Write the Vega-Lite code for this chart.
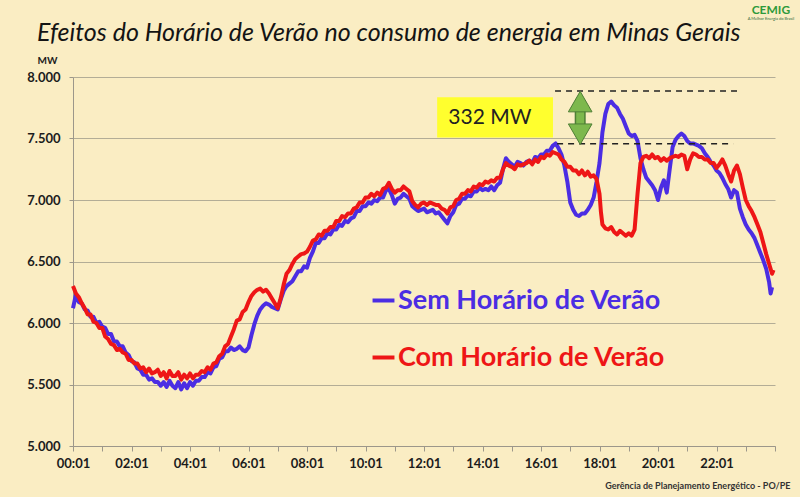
{
  "$schema": "https://vega.github.io/schema/vega-lite/v6.json",
  "width": 702,
  "height": 369,
  "autosize": {"type": "none"},
  "padding": {"left": 73, "top": 77, "right": 25, "bottom": 51},
  "background": "#FAEDC3",
  "config": {"view": {"stroke": null}, "font": "Lato"},
  "datasets": {
    "sem": [
      {"h":0.0,"v":6120},{"h":0.1,"v":6230},{"h":0.2,"v":6170},{"h":0.3,"v":6160},{"h":0.4,"v":6110},{"h":0.5,"v":6100},{"h":0.6,"v":6050},{"h":0.7,"v":6050},{"h":0.8,"v":6000},{"h":0.9,"v":6010},
      {"h":1.0,"v":5970},{"h":1.1,"v":5960},{"h":1.2,"v":5910},{"h":1.3,"v":5910},{"h":1.4,"v":5850},{"h":1.5,"v":5850},{"h":1.6,"v":5810},{"h":1.7,"v":5810},{"h":1.8,"v":5760},{"h":1.9,"v":5740},
      {"h":2.0,"v":5690},{"h":2.1,"v":5680},{"h":2.2,"v":5630},{"h":2.3,"v":5620},{"h":2.4,"v":5580},{"h":2.5,"v":5580},{"h":2.6,"v":5540},{"h":2.7,"v":5550},{"h":2.8,"v":5520},{"h":2.9,"v":5520},
      {"h":3.0,"v":5490},{"h":3.1,"v":5520},{"h":3.2,"v":5480},{"h":3.3,"v":5530},{"h":3.4,"v":5490},{"h":3.5,"v":5470},{"h":3.6,"v":5520},{"h":3.7,"v":5460},{"h":3.8,"v":5510},{"h":3.9,"v":5470},
      {"h":4.0,"v":5520},{"h":4.1,"v":5490},{"h":4.2,"v":5530},{"h":4.3,"v":5530},{"h":4.4,"v":5560},{"h":4.5,"v":5560},{"h":4.6,"v":5600},{"h":4.7,"v":5590},{"h":4.8,"v":5640},{"h":4.9,"v":5650},
      {"h":5.0,"v":5710},{"h":5.1,"v":5720},{"h":5.2,"v":5770},{"h":5.3,"v":5770},{"h":5.4,"v":5800},{"h":5.5,"v":5780},{"h":5.6,"v":5790},{"h":5.7,"v":5810},{"h":5.8,"v":5780},{"h":5.9,"v":5770},
      {"h":6.0,"v":5800},{"h":6.1,"v":5900},{"h":6.2,"v":5990},{"h":6.3,"v":6060},{"h":6.4,"v":6110},{"h":6.5,"v":6140},{"h":6.6,"v":6160},{"h":6.7,"v":6150},{"h":6.8,"v":6130},{"h":6.9,"v":6120},
      {"h":7.0,"v":6110},{"h":7.1,"v":6190},{"h":7.2,"v":6260},{"h":7.3,"v":6300},{"h":7.4,"v":6320},{"h":7.5,"v":6340},{"h":7.6,"v":6380},{"h":7.7,"v":6420},{"h":7.8,"v":6420},{"h":7.9,"v":6460},
      {"h":8.0,"v":6450},{"h":8.1,"v":6530},{"h":8.2,"v":6580},{"h":8.3,"v":6650},{"h":8.4,"v":6650},{"h":8.5,"v":6690},{"h":8.6,"v":6690},{"h":8.7,"v":6730},{"h":8.8,"v":6720},{"h":8.9,"v":6760},
      {"h":9.0,"v":6760},{"h":9.1,"v":6800},{"h":9.2,"v":6790},{"h":9.3,"v":6830},{"h":9.4,"v":6820},{"h":9.5,"v":6850},{"h":9.6,"v":6860},{"h":9.7,"v":6910},{"h":9.8,"v":6910},{"h":9.9,"v":6950},
      {"h":10.0,"v":6950},{"h":10.1,"v":6980},{"h":10.2,"v":6970},{"h":10.3,"v":7000},{"h":10.4,"v":6990},{"h":10.5,"v":7020},{"h":10.6,"v":7020},{"h":10.7,"v":7080},{"h":10.8,"v":7090},{"h":10.9,"v":7040},
      {"h":11.0,"v":6970},{"h":11.1,"v":7010},{"h":11.2,"v":7020},{"h":11.3,"v":7050},{"h":11.4,"v":7030},{"h":11.5,"v":7010},{"h":11.6,"v":6950},{"h":11.7,"v":6930},{"h":11.8,"v":6910},{"h":11.9,"v":6920},
      {"h":12.0,"v":6930},{"h":12.1,"v":6900},{"h":12.2,"v":6910},{"h":12.3,"v":6920},{"h":12.4,"v":6890},{"h":12.5,"v":6900},{"h":12.6,"v":6870},{"h":12.7,"v":6840},{"h":12.8,"v":6810},{"h":12.9,"v":6870},
      {"h":13.0,"v":6900},{"h":13.1,"v":6960},{"h":13.2,"v":6970},{"h":13.3,"v":7010},{"h":13.4,"v":7010},{"h":13.5,"v":7040},{"h":13.6,"v":7030},{"h":13.7,"v":7070},{"h":13.8,"v":7070},{"h":13.9,"v":7100},
      {"h":14.0,"v":7080},{"h":14.1,"v":7090},{"h":14.2,"v":7080},{"h":14.3,"v":7110},{"h":14.4,"v":7080},{"h":14.5,"v":7120},{"h":14.6,"v":7140},{"h":14.7,"v":7250},{"h":14.8,"v":7340},{"h":14.9,"v":7310},
      {"h":15.0,"v":7290},{"h":15.1,"v":7270},{"h":15.2,"v":7310},{"h":15.3,"v":7300},{"h":15.4,"v":7280},{"h":15.5,"v":7310},{"h":15.6,"v":7320},{"h":15.7,"v":7300},{"h":15.8,"v":7350},{"h":15.9,"v":7340},
      {"h":16.0,"v":7370},{"h":16.1,"v":7370},{"h":16.2,"v":7400},{"h":16.3,"v":7400},{"h":16.4,"v":7440},{"h":16.5,"v":7460},{"h":16.6,"v":7420},{"h":16.7,"v":7370},{"h":16.8,"v":7280},{"h":16.9,"v":7150},
      {"h":17.0,"v":6980},{"h":17.1,"v":6920},{"h":17.2,"v":6880},{"h":17.3,"v":6870},{"h":17.4,"v":6890},{"h":17.5,"v":6890},{"h":17.6,"v":6920},{"h":17.7,"v":6960},{"h":17.8,"v":7020},{"h":17.9,"v":7150},
      {"h":18.0,"v":7300},{"h":18.05,"v":7420},{"h":18.1,"v":7550},{"h":18.2,"v":7700},{"h":18.3,"v":7780},{"h":18.4,"v":7800},{"h":18.5,"v":7770},{"h":18.6,"v":7750},{"h":18.7,"v":7700},{"h":18.8,"v":7660},{"h":18.9,"v":7600},
      {"h":19.0,"v":7540},{"h":19.1,"v":7520},{"h":19.2,"v":7530},{"h":19.3,"v":7480},{"h":19.4,"v":7340},{"h":19.5,"v":7250},{"h":19.6,"v":7180},{"h":19.7,"v":7150},{"h":19.8,"v":7120},{"h":19.9,"v":7080},
      {"h":20.0,"v":7000},{"h":20.1,"v":7100},{"h":20.2,"v":7160},{"h":20.3,"v":7060},{"h":20.4,"v":7250},{"h":20.5,"v":7430},{"h":20.6,"v":7490},{"h":20.7,"v":7520},{"h":20.8,"v":7540},{"h":20.9,"v":7520},
      {"h":21.0,"v":7480},{"h":21.1,"v":7460},{"h":21.2,"v":7460},{"h":21.3,"v":7450},{"h":21.4,"v":7440},{"h":21.5,"v":7420},{"h":21.6,"v":7380},{"h":21.7,"v":7350},{"h":21.8,"v":7310},{"h":21.9,"v":7280},
      {"h":22.0,"v":7240},{"h":22.1,"v":7220},{"h":22.2,"v":7180},{"h":22.3,"v":7130},{"h":22.4,"v":7090},{"h":22.5,"v":7020},{"h":22.6,"v":7080},{"h":22.7,"v":7060},{"h":22.8,"v":6930},{"h":22.9,"v":6860},
      {"h":23.0,"v":6800},{"h":23.1,"v":6760},{"h":23.2,"v":6730},{"h":23.3,"v":6690},{"h":23.4,"v":6630},{"h":23.5,"v":6570},{"h":23.6,"v":6510},{"h":23.7,"v":6440},{"h":23.8,"v":6330},{"h":23.85,"v":6240},{"h":23.9,"v":6290}
    ],
    "com": [
      {"h":0.0,"v":6300},{"h":0.1,"v":6240},{"h":0.2,"v":6210},{"h":0.3,"v":6160},{"h":0.4,"v":6120},{"h":0.5,"v":6070},{"h":0.6,"v":6070},{"h":0.7,"v":6010},{"h":0.8,"v":6000},{"h":0.9,"v":5960},
      {"h":1.0,"v":5960},{"h":1.1,"v":5890},{"h":1.2,"v":5870},{"h":1.3,"v":5830},{"h":1.4,"v":5820},{"h":1.5,"v":5780},{"h":1.6,"v":5790},{"h":1.7,"v":5760},{"h":1.8,"v":5750},{"h":1.9,"v":5700},
      {"h":2.0,"v":5700},{"h":2.1,"v":5670},{"h":2.2,"v":5670},{"h":2.3,"v":5630},{"h":2.4,"v":5640},{"h":2.5,"v":5600},{"h":2.6,"v":5630},{"h":2.7,"v":5590},{"h":2.8,"v":5600},{"h":2.9,"v":5620},
      {"h":3.0,"v":5570},{"h":3.1,"v":5600},{"h":3.2,"v":5550},{"h":3.3,"v":5610},{"h":3.4,"v":5570},{"h":3.5,"v":5570},{"h":3.6,"v":5600},{"h":3.7,"v":5540},{"h":3.8,"v":5580},{"h":3.9,"v":5550},
      {"h":4.0,"v":5590},{"h":4.1,"v":5550},{"h":4.2,"v":5580},{"h":4.3,"v":5580},{"h":4.4,"v":5610},{"h":4.5,"v":5600},{"h":4.6,"v":5640},{"h":4.7,"v":5620},{"h":4.8,"v":5670},{"h":4.9,"v":5680},
      {"h":5.0,"v":5730},{"h":5.1,"v":5750},{"h":5.2,"v":5810},{"h":5.3,"v":5830},{"h":5.4,"v":5890},{"h":5.5,"v":5950},{"h":5.6,"v":6020},{"h":5.7,"v":6030},{"h":5.8,"v":6090},{"h":5.9,"v":6110},
      {"h":6.0,"v":6170},{"h":6.1,"v":6220},{"h":6.2,"v":6250},{"h":6.3,"v":6270},{"h":6.4,"v":6280},{"h":6.5,"v":6255},{"h":6.6,"v":6270},{"h":6.7,"v":6240},{"h":6.8,"v":6200},{"h":6.9,"v":6160},
      {"h":7.0,"v":6120},{"h":7.1,"v":6200},{"h":7.2,"v":6310},{"h":7.3,"v":6400},{"h":7.4,"v":6430},{"h":7.5,"v":6480},{"h":7.6,"v":6520},{"h":7.7,"v":6540},{"h":7.8,"v":6560},{"h":7.9,"v":6565},
      {"h":8.0,"v":6580},{"h":8.1,"v":6620},{"h":8.2,"v":6670},{"h":8.3,"v":6680},{"h":8.4,"v":6720},{"h":8.5,"v":6710},{"h":8.6,"v":6750},{"h":8.7,"v":6750},{"h":8.8,"v":6780},{"h":8.9,"v":6780},
      {"h":9.0,"v":6830},{"h":9.1,"v":6830},{"h":9.2,"v":6870},{"h":9.3,"v":6860},{"h":9.4,"v":6890},{"h":9.5,"v":6890},{"h":9.6,"v":6930},{"h":9.7,"v":6940},{"h":9.8,"v":6980},{"h":9.9,"v":6980},
      {"h":10.0,"v":7020},{"h":10.1,"v":7020},{"h":10.2,"v":7050},{"h":10.3,"v":7030},{"h":10.4,"v":7060},{"h":10.5,"v":7040},{"h":10.6,"v":7090},{"h":10.7,"v":7100},{"h":10.8,"v":7140},{"h":10.9,"v":7090},
      {"h":11.0,"v":7060},{"h":11.1,"v":7080},{"h":11.2,"v":7080},{"h":11.3,"v":7110},{"h":11.4,"v":7090},{"h":11.5,"v":7070},{"h":11.6,"v":6990},{"h":11.7,"v":6960},{"h":11.8,"v":6940},{"h":11.9,"v":6970},
      {"h":12.0,"v":6980},{"h":12.1,"v":6960},{"h":12.2,"v":6980},{"h":12.3,"v":6970},{"h":12.4,"v":6960},{"h":12.5,"v":6960},{"h":12.6,"v":6930},{"h":12.7,"v":6920},{"h":12.8,"v":6890},{"h":12.9,"v":6940},
      {"h":13.0,"v":6950},{"h":13.1,"v":7000},{"h":13.2,"v":7010},{"h":13.3,"v":7050},{"h":13.4,"v":7050},{"h":13.5,"v":7080},{"h":13.6,"v":7070},{"h":13.7,"v":7110},{"h":13.8,"v":7100},{"h":13.9,"v":7130},
      {"h":14.0,"v":7120},{"h":14.1,"v":7150},{"h":14.2,"v":7140},{"h":14.3,"v":7160},{"h":14.4,"v":7150},{"h":14.5,"v":7180},{"h":14.6,"v":7180},{"h":14.7,"v":7250},{"h":14.8,"v":7300},{"h":14.9,"v":7280},
      {"h":15.0,"v":7270},{"h":15.1,"v":7250},{"h":15.2,"v":7290},{"h":15.3,"v":7280},{"h":15.4,"v":7290},{"h":15.5,"v":7300},{"h":15.6,"v":7320},{"h":15.7,"v":7290},{"h":15.8,"v":7330},{"h":15.9,"v":7310},
      {"h":16.0,"v":7350},{"h":16.1,"v":7340},{"h":16.2,"v":7370},{"h":16.3,"v":7360},{"h":16.4,"v":7390},{"h":16.5,"v":7380},{"h":16.6,"v":7370},{"h":16.7,"v":7330},{"h":16.8,"v":7310},{"h":16.9,"v":7270},
      {"h":17.0,"v":7270},{"h":17.1,"v":7240},{"h":17.2,"v":7240},{"h":17.3,"v":7210},{"h":17.4,"v":7240},{"h":17.5,"v":7200},{"h":17.6,"v":7230},{"h":17.7,"v":7190},{"h":17.8,"v":7200},{"h":17.9,"v":7170},
      {"h":18.0,"v":7050},{"h":18.05,"v":6900},{"h":18.1,"v":6800},{"h":18.2,"v":6770},{"h":18.3,"v":6760},{"h":18.4,"v":6780},{"h":18.5,"v":6740},{"h":18.6,"v":6720},{"h":18.7,"v":6750},{"h":18.8,"v":6730},{"h":18.9,"v":6710},
      {"h":19.0,"v":6730},{"h":19.1,"v":6710},{"h":19.2,"v":6760},{"h":19.3,"v":7050},{"h":19.4,"v":7300},{"h":19.5,"v":7350},{"h":19.6,"v":7360},{"h":19.7,"v":7340},{"h":19.8,"v":7370},{"h":19.9,"v":7340},
      {"h":20.0,"v":7350},{"h":20.1,"v":7320},{"h":20.2,"v":7340},{"h":20.3,"v":7320},{"h":20.4,"v":7340},{"h":20.5,"v":7350},{"h":20.6,"v":7360},{"h":20.7,"v":7350},{"h":20.8,"v":7370},{"h":20.9,"v":7360},
      {"h":21.0,"v":7250},{"h":21.1,"v":7330},{"h":21.2,"v":7380},{"h":21.3,"v":7370},{"h":21.4,"v":7350},{"h":21.5,"v":7350},{"h":21.6,"v":7330},{"h":21.7,"v":7330},{"h":21.8,"v":7300},{"h":21.9,"v":7300},
      {"h":22.0,"v":7260},{"h":22.1,"v":7290},{"h":22.2,"v":7330},{"h":22.3,"v":7280},{"h":22.4,"v":7210},{"h":22.5,"v":7150},{"h":22.6,"v":7240},{"h":22.7,"v":7280},{"h":22.8,"v":7210},{"h":22.9,"v":7100},
      {"h":23.0,"v":7000},{"h":23.1,"v":6950},{"h":23.2,"v":6910},{"h":23.3,"v":6860},{"h":23.4,"v":6800},{"h":23.5,"v":6740},{"h":23.6,"v":6650},{"h":23.7,"v":6560},{"h":23.8,"v":6480},{"h":23.9,"v":6400},{"h":23.95,"v":6430}
    ]
  },
  "encoding": {
    "x": {"field": "h", "type": "quantitative",
      "scale": {"domain": [0, 24], "nice": false, "zero": false},
      "axis": {"values": [0,1,2,3,4,5,6,7,8,9,10,11,12,13,14,15,16,17,18,19,20,21,22,23,24],
        "labelExpr": "datum.value % 2 == 0 && datum.value < 24 ? (datum.value < 10 ? '0' : '') + datum.value + ':01' : ''",
        "labelFlush": false, "labelOverlap": false, "labelBound": false,
        "labelFont": "Lato", "labelFontWeight": "bold", "labelFontSize": 13, "labelColor": "#1C1C1C", "labelPadding": 6,
        "grid": false, "domainColor": "#9C978A", "tickColor": "#9C978A", "tickSize": 5,
        "title": "Gerência de Planejamento  Energético - PO/PE", "titleFont": "Lato", "titleFontSize": 9, "titleFontWeight": "bold", "titleColor": "#333333",
        "titleAnchor": "end", "titleAlign": "right", "titleX": 717, "titleY": 42, "titleBaseline": "alphabetic"}},
    "y": {"field": "v", "type": "quantitative",
      "scale": {"domain": [5000, 8000], "nice": false, "zero": false},
      "axis": {"values": [5000,5500,6000,6500,7000,7500,8000],
        "labelExpr": "replace(format(datum.value, ',.0f'), ',', '.')",
        "labelFont": "Lato", "labelFontWeight": "bold", "labelFontSize": 13, "labelColor": "#1C1C1C", "labelPadding": 9,
        "grid": true, "gridColor": "#B3AD96", "gridWidth": 1, "domainColor": "#9C978A", "tickColor": "#9C978A", "tickSize": 4,
        "title": "MW", "titleAngle": 0, "titleX": -26, "titleY": -14, "titleAlign": "center", "titleBaseline": "alphabetic",
        "titleFont": "Lato", "titleFontSize": 10, "titleFontWeight": "bold", "titleColor": "#1C1C1C"}}
  },
  "layer": [
    {
      "data": {"values": [{"h": 12.45, "h2": 16.41, "v": 7835, "v2": 7509}]},
      "mark": {"type": "rect", "color": "#FFFF2E"},
      "encoding": {"x2": {"field": "h2"}, "y2": {"field": "v2"}}
    },
    {
      "data": {"name": "sem"},
      "mark": {"type": "line", "strokeWidth": 4, "strokeJoin": "round"},
      "encoding": {"color": {"datum": "Sem Horário de Verão", "type": "nominal",
        "scale": {"domain": ["Sem Horário de Verão", "Com Horário de Verão"], "range": ["#4B2DE3", "#EE1616"]},
        "legend": {"orient": "none", "legendX": 297, "legendY": 210, "title": null, "symbolType": "stroke", "symbolSize": 480, "symbolStrokeWidth": 4,
          "labelFont": "Lato", "labelFontSize": 27, "labelFontWeight": "bold", "labelOffset": 1, "rowPadding": 29, "labelLimit": 400,
          "encode": {"labels": {"update": {"fill": {"scale": "color", "field": "value"}}}}}}}
    },
    {
      "data": {"name": "com"},
      "mark": {"type": "line", "strokeWidth": 4, "strokeJoin": "round"},
      "encoding": {"color": {"datum": "Com Horário de Verão", "type": "nominal"}}
    },
    {
      "data": {"values": [{"h": 16.48, "h2": 22.71, "v": 7886}, {"h": 16.55, "h2": 22.57, "v": 7458}]},
      "mark": {"type": "rule", "color": "#222222", "strokeWidth": 1.5, "strokeDash": [6, 5]},
      "encoding": {"x2": {"field": "h2"}}
    },
    {
      "data": {"values": [{"h": 17.34, "v": 7560, "v2": 7790}]},
      "mark": {"type": "rule", "color": "#4F7F36", "strokeWidth": 11},
      "encoding": {"y2": {"field": "v2"}}
    },
    {
      "data": {"values": [{"h": 17.34, "v": 7555, "v2": 7795}]},
      "mark": {"type": "rule", "color": "#7DB84D", "strokeWidth": 8},
      "encoding": {"y2": {"field": "v2"}}
    },
    {
      "data": {"values": [{"h": 17.34, "v": 7800, "s": "triangle-up"}, {"h": 17.34, "v": 7535, "s": "triangle-down"}]},
      "mark": {"type": "point", "filled": true, "color": "#7DB84D", "stroke": "#4F7F36", "strokeWidth": 1, "size": 560, "opacity": 1},
      "encoding": {"shape": {"field": "s", "type": "nominal", "scale": null}}
    },
    {
      "data": {"values": [{"h": 12.83, "v": 7663, "t": "332 MW"}]},
      "mark": {"type": "text", "align": "left", "baseline": "middle", "font": "Lato", "fontSize": 21, "color": "#222222"},
      "encoding": {"text": {"field": "t"}}
    },
    {
      "data": {"values": [{"h": -1.23, "v": 8291, "t": "Efeitos do Horário de Verão no consumo de energia em Minas Gerais"}]},
      "mark": {"type": "text", "align": "left", "baseline": "alphabetic", "font": "Lato", "fontSize": 25, "fontStyle": "italic", "fontWeight": "normal", "color": "#141414"},
      "encoding": {"text": {"field": "t"}}
    },
    {
      "data": {"values": [{"h": 23.86, "v": 8515, "t": "CEMIG"}]},
      "mark": {"type": "text", "align": "center", "baseline": "alphabetic", "font": "Lato", "fontSize": 12, "fontWeight": "bold", "color": "#2E9A3A"},
      "encoding": {"text": {"field": "t"}}
    },
    {
      "data": {"values": [{"h": 23.86, "v": 8460, "t": "A Melhor Energia do Brasil"}]},
      "mark": {"type": "text", "align": "center", "baseline": "alphabetic", "font": "Lato", "fontSize": 4, "color": "#2E6A3A"},
      "encoding": {"text": {"field": "t"}}
    }
  ]
}
